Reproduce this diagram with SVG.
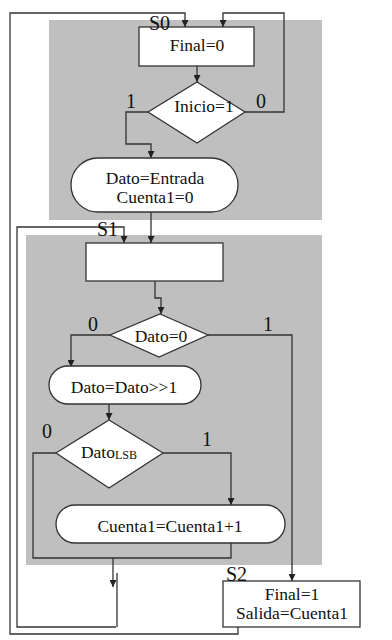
<svg xmlns="http://www.w3.org/2000/svg" width="392" height="640" viewBox="0 0 392 640">
<style>
.bg{fill:#bfbfbf}
.n{fill:#fff;stroke:#333;stroke-width:1.3}
.c{fill:none;stroke:#333;stroke-width:1.3}
.t{font-family:"Liberation Serif","Times New Roman",serif;font-size:17.5px;fill:#111;text-anchor:middle}
.l{font-family:"Liberation Serif","Times New Roman",serif;font-size:20px;fill:#111}
</style>
<defs>
<marker id="a" viewBox="0 0 10 10" refX="10" refY="5" markerWidth="7" markerHeight="7" markerUnits="userSpaceOnUse" orient="auto">
<path d="M0,0 L10,5 L0,10 z" fill="#222"/>
</marker>
</defs>
<rect width="392" height="640" fill="#fff"/>
<rect class="bg" x="49" y="20" width="273" height="200"/>
<rect class="bg" x="26" y="235" width="296" height="330"/>
<g id="connectors">
<path class="c" d="M238,627 V634 H10 V13 H185 V27" marker-end="url(#a)"/>
<path class="c" d="M245,112 H284 V13 H223 V27" marker-end="url(#a)"/>
<path class="c" d="M197,66 V82" marker-end="url(#a)"/>
<path class="c" d="M148,112 H126 V144 H151 V158" marker-end="url(#a)"/>
<path class="c" d="M151,212 V243" marker-end="url(#a)"/>
<path class="c" d="M116,627 H17 V227 H124 V243" marker-end="url(#a)"/>
<path class="c" d="M117,573 V627"/>
<path class="c" d="M155,281 V298 H161 V314" marker-end="url(#a)"/>
<path class="c" d="M110,335 H71 V367" marker-end="url(#a)"/>
<path class="c" d="M208,335 H292 V581" marker-end="url(#a)"/>
<path class="c" d="M109,404 V420" marker-end="url(#a)"/>
<path class="c" d="M163,453 H231 V505" marker-end="url(#a)"/>
<path class="c" d="M56,453 H33 V558 H231 V543"/>
<path class="c" d="M113,558 V587" marker-end="url(#a)"/>
</g>
<g id="s0">
<rect class="n" x="139" y="27" width="115" height="39"/>
<text class="t" x="197" y="51">Final=0</text>
</g>
<g id="inicio">
<path class="n" d="M197,82 L245,112 L197,143 L148,112 Z"/>
<text class="t" x="204" y="112">Inicio=1</text>
</g>
<g id="init">
<rect class="n" x="71" y="158" width="167" height="54" rx="27"/>
<text class="t" x="155" y="184">Dato=Entrada</text>
<text class="t" x="155" y="203">Cuenta1=0</text>
</g>
<g id="s1">
<rect class="n" x="86" y="243" width="137" height="38"/>
</g>
<g id="dato0">
<path class="n" d="M160,314 L208,335 L159,357 L110,335 Z"/>
<text class="t" x="161" y="342">Dato=0</text>
</g>
<g id="shift">
<rect class="n" x="49" y="366" width="152" height="38" rx="19"/>
<text class="t" x="124" y="393">Dato=Dato&gt;&gt;1</text>
</g>
<g id="lsb">
<path class="n" d="M109,420 L163,453 L109,488 L56,453 Z"/>
<text class="t" x="109" y="458">Dato<tspan font-size="12" dy="1">LSB</tspan></text>
</g>
<g id="inc">
<rect class="n" x="56" y="505" width="229" height="38" rx="19"/>
<text class="t" x="170" y="532">Cuenta1=Cuenta1+1</text>
</g>
<g id="s2">
<rect class="n" x="223" y="581" width="137" height="46"/>
<text class="t" x="292" y="600">Final=1</text>
<text class="t" x="292" y="619">Salida=Cuenta1</text>
</g>
<g id="labels">
<text class="l" x="149" y="30">S0</text>
<text class="l" x="126" y="108">1</text>
<text class="l" x="256" y="108">0</text>
<text class="l" x="97" y="236">S1</text>
<text class="l" x="88" y="331">0</text>
<text class="l" x="263" y="331">1</text>
<text class="l" x="42" y="438">0</text>
<text class="l" x="202" y="446">1</text>
<text class="l" x="226" y="581">S2</text>
</g>
</svg>
